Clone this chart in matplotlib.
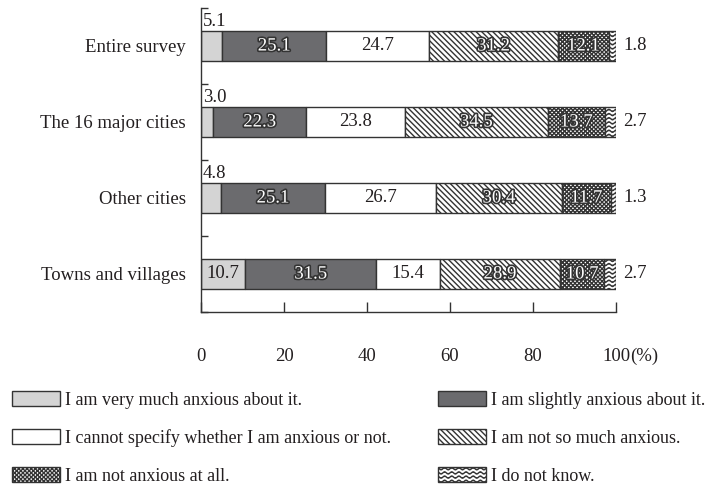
import numpy as np
import matplotlib
matplotlib.use("Agg")
import matplotlib.pyplot as plt
import matplotlib.hatch as mhatch
from matplotlib.path import Path
import matplotlib.patheffects as pe

# ---- custom wavy hatch (replaces plain horizontal hatch '-') ----
class WavyHatch(mhatch.HatchPatternBase):
    def __init__(self, hatch, density):
        self.num_lines = int((hatch.count('-') + hatch.count('+')) * density)
        self.npts = 14 * 8 + 1
        self.num_vertices = self.num_lines * self.npts

    def set_vertices_and_codes(self, vertices, codes):
        steps = np.linspace(0.0, 1.0, self.num_lines, endpoint=False) + 0.5 / self.num_lines
        xs = np.linspace(0.0, 1.0, self.npts)
        wave = 0.011 * np.sin(2 * np.pi * 14 * xs)
        for i, y0 in enumerate(steps):
            s = slice(i * self.npts, (i + 1) * self.npts)
            vertices[s, 0] = xs
            vertices[s, 1] = y0 + wave
            codes[i * self.npts] = Path.MOVETO
            codes[i * self.npts + 1:(i + 1) * self.npts] = Path.LINETO

try:
    idx = mhatch._hatch_types.index(mhatch.HorizontalHatch)
    mhatch._hatch_types[idx] = WavyHatch
except Exception:
    pass

plt.rcParams['font.family'] = ['Liberation Serif', 'DejaVu Serif']
plt.rcParams['hatch.linewidth'] = 1.0
plt.rcParams['hatch.color'] = '#333333'

# ---- data ----
categories = ["Entire survey", "The 16 major cities", "Other cities", "Towns and villages"]
very_much = [5.1, 3.0, 4.8, 10.7]
slightly = [25.1, 22.3, 25.1, 31.5]
cannot_specify = [24.7, 23.8, 26.7, 15.4]
not_so_much = [31.2, 34.5, 30.4, 28.9]
not_at_all = [12.1, 13.7, 11.7, 10.7]
do_not_know = [1.8, 2.7, 1.3, 2.7]

series_labels = ["I am very much anxious about it.",
                 "I am slightly anxious about it.",
                 "I cannot specify whether I am anxious or not.",
                 "I am not so much anxious.",
                 "I am not anxious at all.",
                 "I do not know."]
series = [very_much, slightly, cannot_specify, not_so_much, not_at_all, do_not_know]
x_ticks = [0, 20, 40, 60, 80, 100]
x_tick_labels = ["0", "20", "40", "60", "80", "100"]

# ---- styles ----
colors = ['#d4d4d4', '#6b6b6e', 'white', 'white', 'white', 'white']
hatches = [None, None, None, '\\\\\\\\\\\\', 'xxxxxxxx', '----']
label_style = ['plain', 'outline', 'plain', 'outline', 'outline', 'none']
edge = '#333333'
txt = '#231f20'
FS = 13.5
LFS = 13

fig = plt.figure(figsize=(7.19, 4.84), dpi=100)
ax = fig.add_axes([201 / 719, 1 - 312 / 484, 415 / 719, 304 / 484])

n = len(categories)
ypos = [n - 0.5 - i for i in range(n)]
bar_h = 0.385

lefts = np.zeros(n)
handles = []
for s_i, vals in enumerate(series):
    vals = np.array(vals)
    b = ax.barh(ypos, vals, left=lefts, height=bar_h, color=colors[s_i],
                edgecolor=edge, linewidth=1.0, hatch=hatches[s_i],
                label=series_labels[s_i])
    handles.append(b)
    for j in range(n):
        v = vals[j]
        cx = lefts[j] + v / 2
        if s_i == 0 and v < 8:
            ax.text(0.4, ypos[j] + bar_h / 2 + 0.02, f"{v:.1f}", ha='left', va='bottom',
                    fontsize=FS, color=txt)
        elif s_i == len(series) - 1:
            ax.text(lefts[j] + v + 1.8, ypos[j], f"{v:.1f}", ha='left', va='center',
                    fontsize=FS, color=txt)
        elif label_style[s_i] == 'outline':
            ax.text(cx, ypos[j], f"{v:.1f}", ha='center', va='center', fontsize=FS,
                    color='white',
                    path_effects=[pe.withStroke(linewidth=2.4, foreground='#333333')])
        else:
            ax.text(cx, ypos[j], f"{v:.1f}", ha='center', va='center', fontsize=FS,
                    color=txt)
    lefts = lefts + vals

ax.set_xlim(0, 100)
ax.set_ylim(0, n)
for sp in ['top', 'right']:
    ax.spines[sp].set_visible(False)
for sp in ['left', 'bottom']:
    ax.spines[sp].set_color(edge)
    ax.spines[sp].set_linewidth(1.0)

ax.set_xticks(x_ticks)
ax.set_xticklabels(x_tick_labels)
ax.tick_params(axis='x', direction='in', length=7, width=1, color=edge, pad=26,
               labelsize=FS, labelcolor=txt)
ax.annotate("(%)", xy=(100, 0), xycoords=ax.get_xaxis_transform(),
            xytext=(10.5, -26), textcoords='offset points', fontsize=FS, color=txt,
            ha='left', va='top')
ax.set_yticks(range(n + 1))
ax.set_yticklabels([])
ax.set_yticks(ypos, minor=True)
ax.set_yticklabels(categories, minor=True)
ax.tick_params(axis='y', which='major', direction='in', length=5, width=1, color=edge)
ax.tick_params(axis='y', which='minor', length=0, pad=11, labelsize=FS, labelcolor=txt)

order = [0, 2, 4, 1, 3, 5]
leg = fig.legend([handles[i] for i in order], [series_labels[i] for i in order],
                 loc='upper left', bbox_to_anchor=(12 / 719, 1 - 391 / 484), ncol=2,
                 frameon=False, fontsize=LFS, handlelength=2.66, handleheight=0.89,
                 handletextpad=0.28, columnspacing=2.62, labelspacing=1.13,
                 borderpad=0, borderaxespad=0)
for t in leg.get_texts():
    t.set_color(txt)

fig.savefig("out.png", dpi=100)
